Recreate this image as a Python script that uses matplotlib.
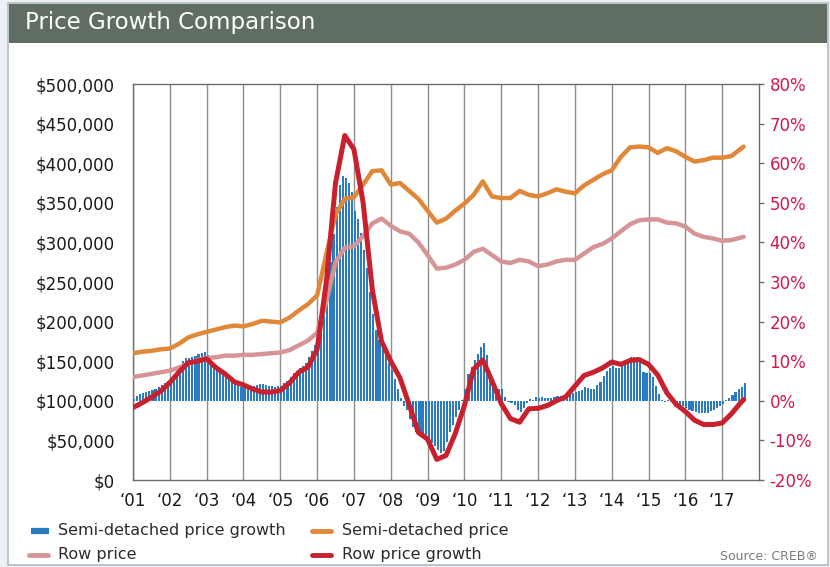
import matplotlib
matplotlib.use('Agg')
import matplotlib.pyplot as plt
from matplotlib.lines import Line2D
from matplotlib.patches import Rectangle
import numpy as np

W, H = 830, 567

# Semi-detached price growth (% y/y), monthly Jan 2001 .. Aug 2017
semi_growth = [
    0.5, 1.2, 1.8, 2.0, 2.3, 2.5, 2.7, 2.9, 3.6, 4.0, 4.6, 5.0,            # 2001
    5.4, 6.3, 7.2, 8.4, 10.0, 10.7, 10.9, 11.0, 11.4, 11.7, 12.0, 12.4,    # 2002
    11.6, 10.0, 8.8, 8.2, 7.7, 7.2, 6.5, 5.8, 5.3, 4.6, 3.9, 3.5,          # 2003
    3.3, 3.4, 3.6, 3.7, 4.0, 4.2, 4.3, 4.0, 3.7, 3.7, 3.6, 3.7,            # 2004
    3.8, 4.4, 5.0, 6.0, 7.0, 7.6, 8.2, 8.8, 9.6, 11.0, 12.6, 14.2,         # 2005
    16.5, 20.5, 25.0, 29.5, 35.0, 42.0, 49.0, 54.5, 56.8, 56.2, 55.0, 52.8,  # 2006
    48.0, 46.0, 42.3, 38.0, 33.5, 27.5, 22.0, 18.0, 15.4, 13.5, 12.0, 9.6,   # 2007
    7.7, 5.5, 3.0, 0.8, -1.2, -2.4, -4.5, -6.5, -7.8, -8.1, -8.4, -8.7,    # 2008
    -9.5, -10.6, -11.4, -12.5, -13.2, -12.8, -10.5, -8.0, -6.0, -4.0, -2.2, 0.3,  # 2009
    3.0, 6.8, 8.6, 10.3, 11.8, 13.5, 14.5, 11.5, 7.0, 5.5, 3.8, 3.1,       # 2010
    2.9, 1.0, -0.2, -0.6, -1.0, -2.2, -2.8, -1.8, -0.6, 0.5, 0.3, 0.9,     # 2011
    0.6, 0.9, 0.8, 0.7, 0.6, 1.0, 1.2, 1.3, 1.5, 1.3, 2.6, 2.0,            # 2012
    2.2, 2.6, 2.8, 3.5, 3.3, 3.1, 2.9, 3.9, 4.8, 6.3, 7.6, 8.4,            # 2013
    8.9, 8.4, 8.4, 8.8, 9.6, 10.4, 11.0, 11.1, 11.0, 10.0, 7.2, 6.9,       # 2014
    7.0, 6.0, 3.8, 1.6, 0.2, -0.2, 0.1, -0.1, -0.3, -0.7, -1.1, -1.4,      # 2015
    -1.7, -2.2, -2.6, -2.8, -3.0, -3.2, -3.2, -3.1, -2.7, -2.3, -1.9, -1.4,  # 2016
    -0.8, 0.1, 0.8, 1.5, 2.2, 2.9, 3.5, 4.5,                               # 2017
]

# line series read every third month from Jan 2001, last point Aug 2017
line_months = list(range(0, 199, 3)) + [199]

# prices in $ thousands
semi_price = [
    160, 162, 163, 165, 166, 172, 180, 184, 187, 190, 193, 195,
    194, 197, 201, 200, 199, 205, 214, 222, 233, 285, 335, 355,
    357, 373, 390, 391, 373, 375, 365, 355, 340, 325, 330, 340,
    349, 360, 377, 358, 356, 356, 365, 360, 358, 362, 367, 364,
    362, 372, 379, 386, 391, 408, 420, 421, 420, 413, 419, 415,
    408, 402, 404, 407, 407, 409, 418, 421,
]
row_price = [
    130, 132, 134, 136, 138, 142, 147, 151, 154, 155, 157, 157,
    158, 158, 159, 160, 161, 164, 170, 176, 186, 225, 275, 293,
    295, 308, 324, 330, 321, 314, 311, 300, 284, 267, 268, 272,
    278, 288, 292, 284, 276, 274, 278, 276, 270, 272, 276, 278,
    278, 286, 294, 298, 305, 314, 323, 328, 329, 329, 325, 324,
    320, 311, 307, 305, 302, 303, 306, 307,
]
# Row price growth (% y/y)
row_growth = [
    -1.7, -0.5, 0.9, 2.4, 4.6, 7.3, 9.6, 10.0, 10.6, 8.4, 6.8, 4.8,
    4.0, 3.0, 2.2, 2.2, 2.6, 4.5, 7.2, 8.5, 13.0, 30.0, 55.0, 67.0,
    63.5, 50.0, 28.0, 15.0, 10.0, 5.8, -1.0, -8.0, -9.7, -14.8, -13.8, -8.3,
    -1.2, 8.0, 10.3, 5.0, -0.7, -4.5, -5.4, -2.0, -1.9, -1.2, 0.0, 1.0,
    3.7, 6.4, 7.2, 8.3, 9.8, 9.2, 10.2, 10.4, 9.2, 6.5, 2.0, -0.9,
    -2.7, -4.9, -6.0, -6.0, -5.6, -3.3, -0.5, 0.3,
]

year_ticks = list(range(2001, 2018))
year_labels = ['\u2018%02d' % (y % 100) for y in year_ticks]
price_ticks = list(range(0, 500001, 50000))
price_labels = ['$0'] + ['${:,}'.format(v) for v in price_ticks[1:]]
pct_ticks = list(range(-20, 81, 10))
pct_labels = ['%d%%' % v for v in pct_ticks]

BLUE = '#2a7bbf'
ORANGE = '#e08838'
PINK = '#d59596'
RED = '#c8202c'
PCT_RED = '#d4184c'
GRID = '#8e8e8e'
SPINE = '#66716b'

bar_x = [2001 + m / 12 for m in range(len(semi_growth))]
line_x = [2001 + m / 12 for m in line_months]

fig = plt.figure(figsize=(W / 100, H / 100), dpi=100, facecolor='#edf1f7')

# card and header band
fig.add_artist(Rectangle((8 / W, 1 - 565 / H), 820 / W, 562 / H, transform=fig.transFigure,
                         facecolor='white', edgecolor='#b5babd', lw=1.2, zorder=0))
fig.add_artist(Rectangle((9 / W, 1 - 43 / H), 818 / W, 39 / H, transform=fig.transFigure,
                         facecolor='#5f6d63', edgecolor='none', zorder=1))
fig.text(25 / W, 1 - 23 / H, 'Price Growth Comparison', color='white', fontsize=16.5,
         ha='left', va='center')

ax = fig.add_axes([133 / W, 1 - 480 / H, 626 / W, 396 / H])
ax.set_facecolor('none')
ax.bar(bar_x, semi_growth, width=0.058, align='edge', color=BLUE, linewidth=0, zorder=2)
ax.set_xlim(2001, 2018)
ax.set_ylim(-20, 80)
ax.set_xticks(year_ticks, year_labels)
ax.tick_params(axis='x', length=0, pad=9, labelsize=12, labelcolor='#1a1a1a')
ax.grid(axis='x', color=GRID, lw=1)
ax.set_axisbelow(True)
for s in ax.spines.values():
    s.set_color(SPINE)
    s.set_linewidth(1)

axp = ax.twinx()
axp.plot(line_x, [v * 1000 for v in row_price], color=PINK, lw=3.2,
         solid_capstyle='round', solid_joinstyle='round')
axp.plot(line_x, [v * 1000 for v in semi_price], color=ORANGE, lw=3.2,
         solid_capstyle='round', solid_joinstyle='round')
axp.set_ylim(0, 500000)
axp.yaxis.set_ticks_position('left')
axp.yaxis.set_label_position('left')
axp.set_yticks(price_ticks, price_labels)
axp.tick_params(axis='y', length=0, pad=13, labelsize=12, labelcolor='#1a1a1a')
for s in axp.spines.values():
    s.set_visible(False)

axr = ax.twinx()
axr.plot(line_x, row_growth, color=RED, lw=3.6,
         solid_capstyle='round', solid_joinstyle='round')
axr.set_ylim(-20, 80)
axr.set_yticks([])
for s in axr.spines.values():
    s.set_visible(False)
axr.set_xlim(2001, 2018)

# twinx moves the host's ticks to the left, so put the % axis back on the right
ax.yaxis.tick_right()
ax.set_yticks(pct_ticks, pct_labels)
ax.tick_params(axis='y', which='both', left=False, labelleft=False, right=True, labelright=True,
               direction='out', length=3.5, width=1, color=SPINE, pad=4,
               labelsize=12, labelcolor=PCT_RED)

# legend, laid out by hand like the original
legend_items = [
    ('Semi-detached price growth', BLUE, 31, 49, 531, 58, 'butt', 4.5),
    ('Semi-detached price', ORANGE, 312, 331, 531, 342, 'round', 3.5),
    ('Row price', PINK, 29, 48, 555, 58, 'round', 3.5),
    ('Row price growth', RED, 312, 331, 555, 342, 'round', 3.5),
]
for label, color, x0, x1, y, tx, cap, lw in legend_items:
    fig.add_artist(Line2D([x0 / W, x1 / W], [1 - y / H, 1 - y / H], transform=fig.transFigure,
                          color=color, lw=lw, solid_capstyle=cap))
    fig.text(tx / W, 1 - (y - 1) / H, label, fontsize=11.5, color='#2b2b2b',
             ha='left', va='center')

fig.text(818 / W, 1 - 557 / H, 'Source: CREB\u00ae', fontsize=9, color='#7a7a7a',
         ha='right', va='center')

fig.savefig('out.png', dpi=100, facecolor=fig.get_facecolor())
